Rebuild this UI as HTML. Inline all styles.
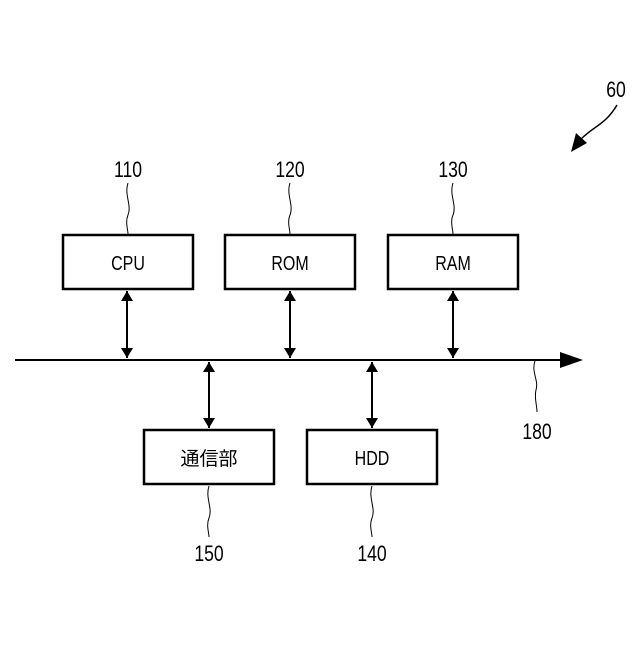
<!DOCTYPE html>
<html><head><meta charset="utf-8"><style>
html,body{margin:0;padding:0;background:#fff;}
svg text{font-family:"Liberation Sans","Noto Sans CJK JP",sans-serif;fill:#000;}
</style></head><body>
<svg width="640" height="640" viewBox="0 0 640 640" xmlns="http://www.w3.org/2000/svg">
<defs>
<marker id="a" markerWidth="10" markerHeight="10" refX="9" refY="5" orient="auto" markerUnits="userSpaceOnUse">
<path d="M0,0 L10,5 L0,10 z" fill="#000"/></marker>
<marker id="b" markerWidth="10" markerHeight="12" refX="10" refY="6" orient="auto-start-reverse" markerUnits="userSpaceOnUse">
<path d="M0,0 L10,6 L0,12 z" fill="#000"/></marker>
</defs>
<g fill="none" stroke="#000" stroke-width="2.5">
<rect x="63" y="235" width="130" height="54"/>
<rect x="225" y="235" width="130" height="54"/>
<rect x="388" y="235" width="130" height="54"/>
<rect x="144" y="430" width="130" height="54"/>
<rect x="307" y="430" width="130" height="54"/>
</g>
<line x1="15" y1="360" x2="566" y2="360" stroke="#000" stroke-width="2"/>
<path d="M583,360 L560,352 L560,368 z" fill="#000"/>
<g stroke="#000" stroke-width="2" marker-start="url(#b)" marker-end="url(#b)">
<line x1="127" y1="291" x2="127" y2="358"/>
<line x1="290" y1="291" x2="290" y2="358"/>
<line x1="453" y1="291" x2="453" y2="358"/>
<line x1="209" y1="362" x2="209" y2="428"/>
<line x1="372" y1="362" x2="372" y2="428"/>
</g>
<g fill="none" stroke="#000" stroke-width="1">
<path d="M128,183 C124,195 132,205 128,215 C125,222 128,230 128,234"/>
<path d="M290,183 C286,195 294,205 290,215 C287,222 290,230 290,234"/>
<path d="M453,183 C449,195 457,205 453,215 C450,222 453,230 453,234"/>
<path d="M209,486 C205,498 213,508 209,518 C206,525 209,533 209,537"/>
<path d="M372,486 C368,498 376,508 372,518 C369,525 372,533 372,537"/>
<path d="M535,361 C531,372 539,380 536,390 C534,398 537,405 537,412"/>
<path d="M617,105 C605,125 595,125 580,140" stroke-width="1.5"/>
</g>
<path d="M571,152 L576,133 L587,143 z" fill="#000"/>
<g font-size="22" text-anchor="middle">
<text transform="translate(128,177) scale(0.8,1)">110</text>
<text transform="translate(290,177) scale(0.8,1)">120</text>
<text transform="translate(453,177) scale(0.8,1)">130</text>
<text transform="translate(209,561) scale(0.8,1)">150</text>
<text transform="translate(372,561) scale(0.8,1)">140</text>
<text transform="translate(537,439) scale(0.8,1)">180</text>
<text transform="translate(616,97) scale(0.8,1)">60</text>
</g>
<g font-size="20" text-anchor="middle">
<text transform="translate(128,270) scale(0.8,1)">CPU</text>
<text transform="translate(290,270) scale(0.8,1)">ROM</text>
<text transform="translate(453,270) scale(0.8,1)">RAM</text>
<text transform="translate(372,465) scale(0.8,1)">HDD</text>
<text x="209" y="465" font-size="19">通信部</text>
</g>
</svg>
</body></html>
